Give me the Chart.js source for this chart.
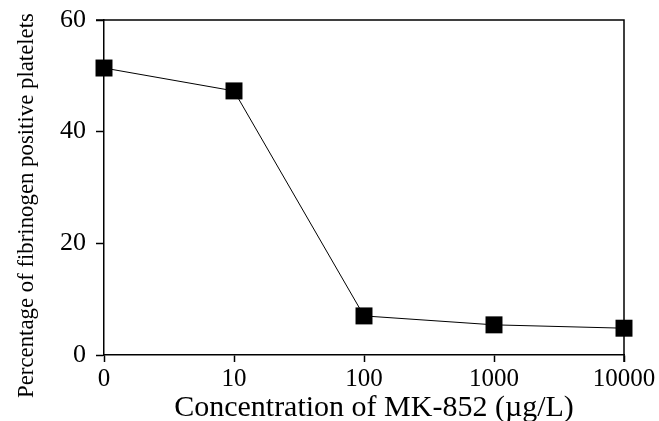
<!DOCTYPE html>
<html>
<head>
<meta charset="utf-8">
<script src="https://cdn.jsdelivr.net/npm/chart.js@4"></script>
<style>
  html, body { margin: 0; padding: 0; background: #fff; }
  #wrap { width: 659px; height: 421px; }
</style>
</head>
<body>
<div id="wrap"><canvas id="chart"></canvas></div>
<script>
let concentrations = ['0', '10', '100', '1000', '10000']
let fibrinogenPositive = [51.4, 47.3, 7.0, 5.4, 4.8]
let yTicks = [0, 20, 40, 60]
let xTitle = 'Concentration of MK-852 (\u00b5g/L)'
let yTitle = 'Percentage of fibrinogen positive platelets'

let serif = '"Liberation Serif", "Times New Roman", serif'

// box around the plot area (top + right sides) and both axis titles,
// which sit a little off the plot's middle in the original
let frame = {
    id: 'frame',
    afterDraw(chart) {
        let a = chart.chartArea
        let c = chart.ctx
        c.save()
        c.strokeStyle = '#000'
        c.lineWidth = 1.5
        c.beginPath()
        c.moveTo(a.left - 8, a.top)
        c.lineTo(a.right, a.top)
        c.lineTo(a.right, a.bottom + 7)
        c.stroke()

        c.fillStyle = '#000'
        c.textAlign = 'center'
        c.textBaseline = 'alphabetic'
        c.font = '30px ' + serif
        c.fillText(xTitle, 374, 416)

        c.translate(33, 205.5)
        c.rotate(-Math.PI / 2)
        c.font = '22.8px ' + serif
        c.fillText(yTitle, 0, 0)
        c.restore()
    }
}

let ctx = document.querySelector('#chart')

let chart = new Chart(ctx, {
    type: 'line',
    data: {
        labels: concentrations,
        datasets: [{
            data: fibrinogenPositive,
            borderColor: '#000',
            borderWidth: 1,
            backgroundColor: '#000',
            pointStyle: 'rect',
            pointRadius: 12,
            pointBorderWidth: 0,
            tension: 0
        }]
    },
    options: {
        responsive: true,
        maintainAspectRatio: false,
        animation: false,
        layout: { padding: { left: 0, right: 0, top: 20, bottom: 0 } },
        plugins: { legend: { display: false }, tooltip: { enabled: false } },
        scales: {
            x: {
                type: 'category',
                offset: false,
                grid: { drawOnChartArea: false, tickLength: 7, tickColor: '#000', tickWidth: 1.5 },
                border: { color: '#000', width: 1.5 },
                ticks: { color: '#000', font: { family: serif, size: 25 }, padding: 2, maxRotation: 0 },
                title: { display: false },
                afterFit(scale) {
                    scale.height = 66
                    scale.paddingRight = 35
                }
            },
            y: {
                min: 0,
                max: 60,
                afterBuildTicks(scale) { scale.ticks = yTicks.map(v => ({ value: v })) },
                grid: { drawOnChartArea: false, tickLength: 8, tickColor: '#000', tickWidth: 1.5 },
                border: { color: '#000', width: 1.5 },
                ticks: { color: '#000', font: { family: serif, size: 26 }, padding: 10 },
                title: { display: false },
                afterFit(scale) {
                    scale.width = 104
                    scale.paddingTop = 0
                    scale.paddingBottom = 0
                }
            }
        }
    },
    plugins: [frame]
})
</script>
</body>
</html>
